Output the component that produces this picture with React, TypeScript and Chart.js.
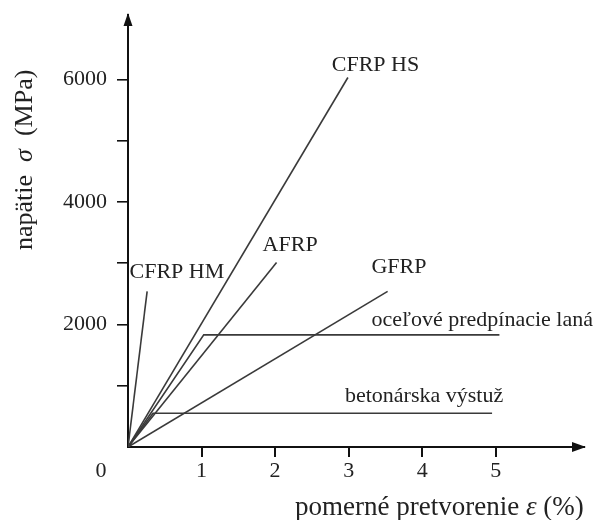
import React, { useEffect, useRef } from 'react';
import { Chart, registerables } from 'chart.js';

Chart.register(...registerables);

// ---- data (strain in %, stress in MPa) ----
const seriesNames = ['CFRP HM', 'CFRP HS', 'AFRP', 'GFRP', 'oceľové predpínacie laná', 'betonárska výstuž'];
const strainCfrpHm = [0, 0.26];
const stressCfrpHm = [0, 2540];
const strainCfrpHs = [0, 2.99];
const stressCfrpHs = [0, 6030];
const strainAfrp = [0, 2.02];
const stressAfrp = [0, 3010];
const strainGfrp = [0, 3.53];
const stressGfrp = [0, 2540];
const strainStrand = [0, 1.03, 5.05];
const stressStrand = [0, 1830, 1830];
const strainRebar = [0, 0.34, 4.95];
const stressRebar = [0, 550, 550];

// label anchors (data coordinates, left / middle of text)
const labelStrain = [0.02, 2.77, 1.83, 3.31, 3.31, 2.95];
const labelStress = [2850, 6230, 3290, 2930, 2075, 835];

// ---- axes ----
const xTickValues = [1, 2, 3, 4, 5];
const xTickLabels = ['1', '2', '3', '4', '5'];
const yTickValues = [1000, 2000, 3000, 4000, 5000, 6000];
const yTickLabels = ['', '2000', '', '4000', '', '6000'];
const originLabel = '0';
const xMax = 6.2;
const yMax = 7050;
const xTitleParts = ['pomerné pretvorenie ', 'ε', ' (%)'];
const yTitleParts = ['napätie  ', 'σ', '  (MPa)'];

const FONT = '"Liberation Serif", "DejaVu Serif", serif';
const TEXT = '#222';
const LINE = '#3a3a3a';

function pts(xs: number[], ys: number[]) {
  return xs.map((v, i) => ({ x: v, y: ys[i] }));
}

function drawParts(ctx: CanvasRenderingContext2D, parts: string[], size: number, x: number, y: number) {
  let cx = x;
  parts.forEach((p, i) => {
    ctx.font = (i === 1 ? 'italic ' : '') + size + 'px ' + FONT;
    ctx.fillText(p, cx, y);
    cx += ctx.measureText(p).width;
  });
}

const overlay = {
  id: 'overlay',
  afterDraw(chart: any) {
    const { ctx, chartArea } = chart;
    const xs = chart.scales.x;
    const ys = chart.scales.y;
    ctx.save();
    // arrowheads
    ctx.fillStyle = '#111';
    ctx.beginPath();
    ctx.moveTo(chartArea.right + 2, chartArea.bottom);
    ctx.lineTo(chartArea.right - 12, chartArea.bottom - 5);
    ctx.lineTo(chartArea.right - 12, chartArea.bottom + 5);
    ctx.closePath();
    ctx.fill();
    ctx.beginPath();
    ctx.moveTo(chartArea.left, chartArea.top - 2);
    ctx.lineTo(chartArea.left - 4.5, chartArea.top + 11);
    ctx.lineTo(chartArea.left + 4.5, chartArea.top + 11);
    ctx.closePath();
    ctx.fill();

    ctx.fillStyle = TEXT;
    // origin label
    ctx.font = '22px ' + FONT;
    ctx.textAlign = 'center';
    ctx.textBaseline = 'middle';
    ctx.fillText(originLabel, xs.getPixelForValue(0) - 27, chartArea.bottom + 24.5);

    // series labels
    ctx.textAlign = 'left';
    seriesNames.forEach((name, i) => {
      ctx.fillText(name, xs.getPixelForValue(labelStrain[i]), ys.getPixelForValue(labelStress[i]));
    });

    // x title
    ctx.textBaseline = 'alphabetic';
    drawParts(ctx, xTitleParts, 27, 295, 515);

    // y title
    ctx.translate(32, 250);
    ctx.rotate(-Math.PI / 2);
    drawParts(ctx, yTitleParts, 26, 0, 0);
    ctx.restore();
  },
};

export default function App() {
  const ref = useRef<HTMLCanvasElement | null>(null);
  useEffect(() => {
    if (!ref.current) return;
    const mk = (xs: number[], ys: number[], label: string) => ({
      label,
      data: pts(xs, ys),
      showLine: true,
      borderColor: LINE,
      borderWidth: 1.6,
      pointRadius: 0,
      fill: false,
      tension: 0,
    });
    const chart = new Chart(ref.current, {
      type: 'scatter',
      data: {
        datasets: [
          mk(strainCfrpHm, stressCfrpHm, seriesNames[0]),
          mk(strainCfrpHs, stressCfrpHs, seriesNames[1]),
          mk(strainAfrp, stressAfrp, seriesNames[2]),
          mk(strainGfrp, stressGfrp, seriesNames[3]),
          mk(strainStrand, stressStrand, seriesNames[4]),
          mk(strainRebar, stressRebar, seriesNames[5]),
        ],
      },
      options: {
        animation: false,
        responsive: false,
        devicePixelRatio: 1,
        layout: { padding: { top: 15, right: 10, left: 0, bottom: 0 } },
        plugins: { legend: { display: false }, tooltip: { enabled: false }, title: { display: false } },
        scales: {
          x: {
            type: 'linear',
            min: 0,
            max: xMax,
            afterFit: (s: any) => { s.height = 73; s.paddingLeft = 0; s.paddingRight = 0; },
            afterBuildTicks: (s: any) => { s.ticks = xTickValues.map((v) => ({ value: v })); },
            border: { display: true, color: '#111', width: 2 },
            grid: { display: true, drawOnChartArea: false, drawTicks: true, tickLength: 10, color: '#111', lineWidth: 2 },
            ticks: {
              color: TEXT,
              font: { family: FONT, size: 22 },
              padding: 1,
              maxRotation: 0,
              autoSkip: false,
              callback: (v: any) => xTickLabels[xTickValues.indexOf(Number(v))] ?? '',
            },
          },
          y: {
            type: 'linear',
            min: 0,
            max: yMax,
            afterFit: (s: any) => { s.width = 128; s.paddingTop = 0; s.paddingBottom = 0; },
            afterBuildTicks: (s: any) => { s.ticks = yTickValues.map((v) => ({ value: v })); },
            border: { display: true, color: '#111', width: 2 },
            grid: { display: true, drawOnChartArea: false, drawTicks: true, tickLength: 11, color: '#111', lineWidth: 1.6 },
            ticks: {
              color: TEXT,
              font: { family: FONT, size: 22 },
              padding: 10,
              autoSkip: false,
              callback: (v: any) => yTickLabels[yTickValues.indexOf(Number(v))] ?? '',
            },
          },
        },
      },
      plugins: [overlay],
    });
    return () => chart.destroy();
  }, []);
  return (
    <div style={{ position: 'absolute', left: 0, top: 0, width: 594, height: 520, background: '#fff' }}>
      <canvas ref={ref} width={594} height={520} style={{ display: 'block' }} />
    </div>
  );
}
